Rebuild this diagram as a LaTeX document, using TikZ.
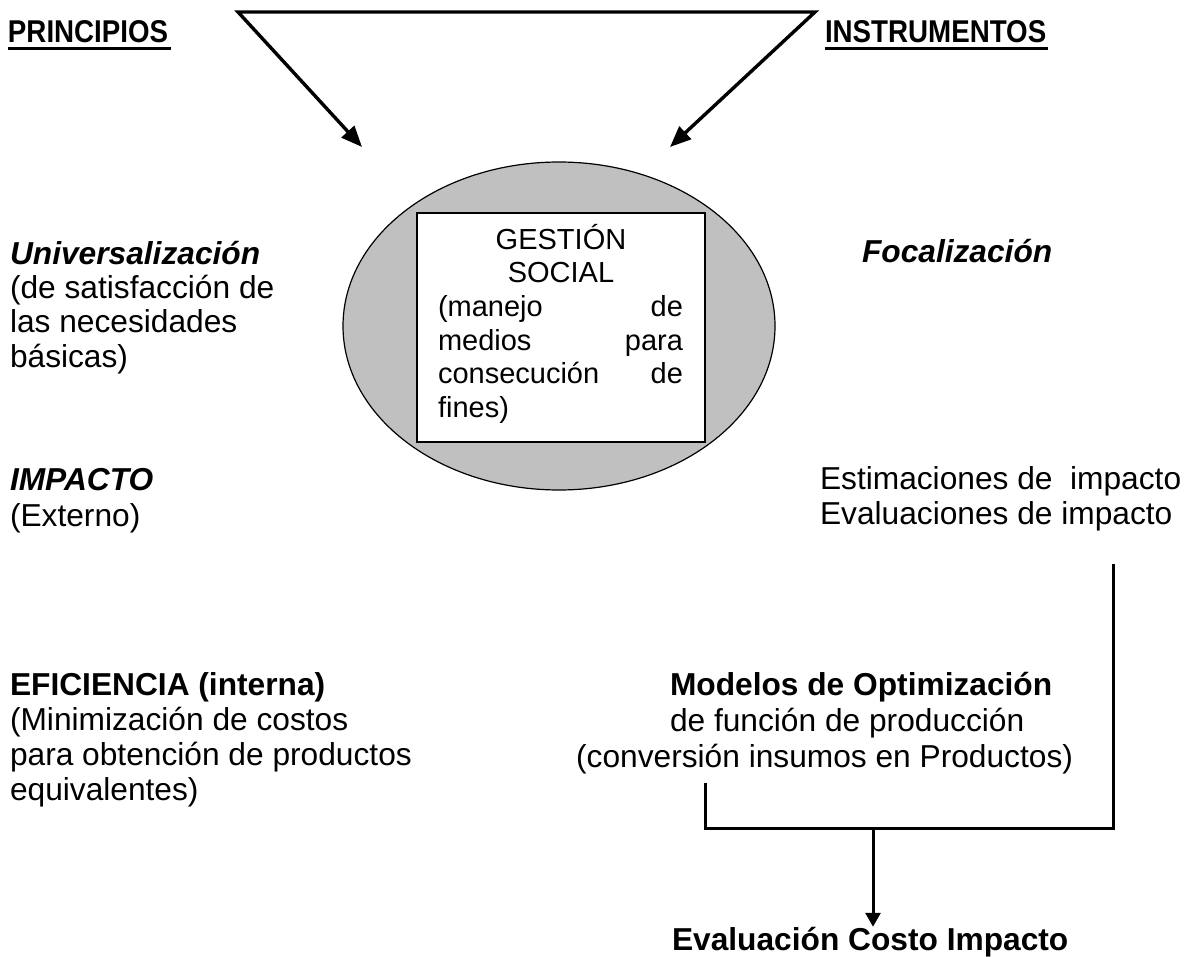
\documentclass[tikz,border=0pt]{standalone}
\usepackage{fontspec}
\setmainfont{Liberation Sans}
\newfontfamily\hdfont{Liberation Sans}[FakeStretch=0.88]
\usetikzlibrary{arrows.meta,shapes.geometric}
\definecolor{ellgray}{RGB}{192,192,192}
\begin{document}
\begin{tikzpicture}[x=1pt,y=-1pt,
  txt/.style={inner sep=0pt, outer sep=0pt, anchor=base west, font=\fontsize{31.7}{36}\selectfont},
  bi/.style={txt, font=\fontsize{31.7}{36}\selectfont\bfseries\itshape},
  bd/.style={txt, font=\fontsize{31.7}{36}\selectfont\bfseries},
  txte/.style={txt, anchor=base east},
  boxtxt/.style={inner sep=0pt, outer sep=0pt, anchor=base west, font=\fontsize{29}{33}\selectfont},
  boxtxtc/.style={boxtxt, anchor=base},
  hd/.style={inner sep=0pt, outer sep=0pt, anchor=base west, font=\hdfont\bfseries\fontsize{31.5}{36}\selectfont},
  uline/.style={line width=3.3pt},
  topconn/.style={line width=3.4pt, line join=miter,
     arrows={Triangle[length=21pt,width=17pt]-Triangle[length=21pt,width=17pt]}},
  conn/.style={line width=3pt, line join=miter},
  downarrow/.style={conn, -{Triangle[length=14pt,width=15pt]}}]
\useasboundingbox (0,0) rectangle (1188,957);

% headings
\node[hd] (pr) at (8,43) {PRINCIPIOS};
\node[hd] (in) at (825,43) {INSTRUMENTOS};
\draw[uline] ([yshift=-5.3pt]pr.base west) -- ([yshift=-5.3pt,xshift=3pt]pr.base east);
\draw[uline] ([yshift=-5.3pt]in.base west) -- ([yshift=-5.3pt,xshift=2pt]in.base east);

% central ellipse and box
\node[ellipse, draw, fill=ellgray, line width=1.2pt, minimum width=432pt, minimum height=328pt, inner sep=0pt] (ell) at (559,326) {};
\node[draw, fill=white, line width=2pt, minimum width=288pt, minimum height=229pt, inner sep=0pt] (box) at (561,327.5) {};
\node[boxtxtc] (g1) at (561,250) {GESTIÓN};
\node[boxtxtc] (g2) at (561,283) {SOCIAL};
\node[boxtxt] (g3) at (438,317) {\hbox to 245pt{(manejo\hfill de}};
\node[boxtxt] (g4) at (438,350) {\hbox to 245pt{medios\hfill para}};
\node[boxtxt] (g5) at (438,383) {\hbox to 245pt{consecución\hfill de}};
\node[boxtxt] (g6) at (438,417) {fines)};

% top arrows
\coordinate (tl) at (238,12);
\coordinate (tr) at (815,12);
\coordinate (al) at (362,147);
\coordinate (ar) at (670,147);
\draw[topconn] (al) -- (tl) -- (tr) -- (ar);

% left column
\node[bi] (u1) at (10,265) {Universalización};
\node[txt] (u2) at (10,299) {(de satisfacción de};
\node[txt] (u3) at (10,333) {las necesidades};
\node[txt] (u4) at (10,367) {básicas)};

\node[bi] (i1) at (10,490) {IMPACTO};
\node[txt] (i2) at (10,526) {(Externo)};

\node[bd] (e1) at (10,695) {EFICIENCIA (interna)};
\node[txt] (e2) at (10,730) {(Minimización de costos};
\node[txt] (e3) at (10,765) {para obtención de productos};
\node[txt] (e4) at (10,800) {equivalentes)};

% right column
\node[bi] (f1) at (862,263) {Focalización};
\node[txt] (s1) at (820,489) {Estimaciones de\ \ impacto};
\node[txt] (s2) at (820,524) {Evaluaciones de impacto};

\node[bd] (m1) at (670,695) {Modelos de Optimización};
\node[txt] (m2) at (670,731) {de función de producción};
\node[txte] (m3) at (1073,767) {(conversión insumos en Productos)};

\node[bd] (ev) at (672,950) {Evaluación Costo Impacto};

% bottom connectors
\coordinate (rv) at (1113,564);
\coordinate (lv) at (705,783);
\coordinate (cl) at (705,828);
\coordinate (cr) at (1113,828);
\coordinate (hj) at (873,828);
\draw[conn] (lv) -- (cl) -- (cr) -- (rv);
\draw[downarrow] (hj) -- (hj |- ev.north);
\end{tikzpicture}
\end{document}
